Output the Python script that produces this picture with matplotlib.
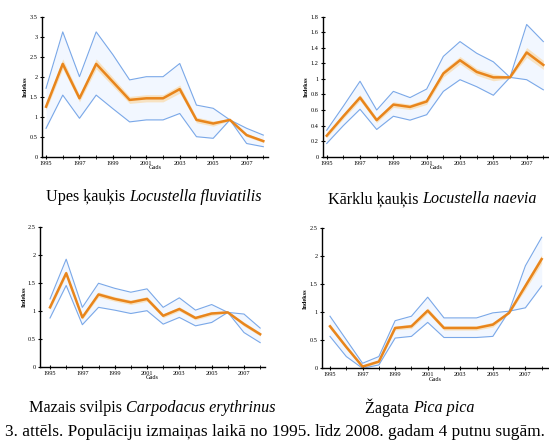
import numpy as np
import matplotlib
matplotlib.use("Agg")
import matplotlib.pyplot as plt

plt.rcParams['font.family'] = ['Liberation Serif', 'DejaVu Serif']

years = np.arange(1995, 2009)

# Upes kaukis
upes_mid = [1.25, 2.32, 1.46, 2.32, 1.87, 1.42, 1.46, 1.46, 1.69, 0.92, 0.83, 0.92, 0.54, 0.39]
upes_hi  = [1.71, 3.12, 2.00, 3.12, 2.55, 1.92, 2.00, 2.00, 2.33, 1.29, 1.21, 0.92, 0.71, 0.54]
upes_lo  = [0.71, 1.54, 0.96, 1.54, 1.20, 0.87, 0.92, 0.92, 1.08, 0.50, 0.46, 0.92, 0.33, 0.25]

# Karklu kaukis
karklu_mid = [0.27, 0.52, 0.76, 0.47, 0.67, 0.64, 0.71, 1.07, 1.24, 1.09, 1.02, 1.02, 1.34, 1.18]
karklu_hi  = [0.34, 0.65, 0.97, 0.60, 0.84, 0.76, 0.87, 1.29, 1.48, 1.33, 1.22, 1.02, 1.70, 1.48]
karklu_lo  = [0.17, 0.40, 0.61, 0.35, 0.52, 0.47, 0.54, 0.84, 0.99, 0.90, 0.79, 1.02, 0.99, 0.86]

# Mazais svilpis
svilpis_mid = [1.06, 1.67, 0.88, 1.29, 1.21, 1.15, 1.21, 0.91, 1.03, 0.87, 0.95, 0.97, 0.76, 0.58]
svilpis_hi  = [1.21, 1.92, 1.06, 1.49, 1.40, 1.33, 1.39, 1.06, 1.23, 1.01, 1.11, 0.97, 0.94, 0.69]
svilpis_lo  = [0.87, 1.45, 0.75, 1.06, 1.01, 0.95, 1.00, 0.76, 0.88, 0.73, 0.79, 0.97, 0.61, 0.43]

# Zagata
zagata_mid = [0.75, 0.38, 0.03, 0.12, 0.72, 0.75, 1.03, 0.72, 0.72, 0.72, 0.78, 0.99, 1.47, 1.95]
zagata_hi  = [0.93, 0.51, 0.09, 0.21, 0.85, 0.93, 1.27, 0.90, 0.90, 0.90, 0.99, 1.02, 1.83, 2.34]
zagata_lo  = [0.57, 0.21, 0.00, 0.06, 0.54, 0.57, 0.82, 0.55, 0.55, 0.55, 0.57, 1.02, 1.08, 1.47]

xticks = [1995, 1997, 1999, 2001, 2003, 2005, 2007]

W, H = 549, 443
fig = plt.figure(figsize=(W / 100, H / 100), dpi=100)

def px_axes(x0, x1, ytop, ybot):
    return fig.add_axes([x0 / W, 1 - ybot / H, (x1 - x0) / W, (ybot - ytop) / H])

panels = [
    # (axes box px), xlim, ylim, yticks, data, title parts, title pos
    ((41.7, 268, 16.7, 156.7), (1994.74, 2008.28), (0, 3.5), np.arange(0, 3.51, 0.5),
     (upes_mid, upes_hi, upes_lo), ("Upes ķauķis ", "Locustella fluviatilis"), (154, 197)),
    ((322.7, 549, 16.7, 156.7), (1994.76, 2008.34), (0, 1.8), np.arange(0, 1.81, 0.2),
     (karklu_mid, karklu_hi, karklu_lo), ("Kārklu ķauķis ", "Locustella naevia"), (432, 199)),
    ((40, 265, 226.7, 366.7), (1994.38, 2008.3), (0, 2.5), np.arange(0, 2.51, 0.5),
     (svilpis_mid, svilpis_hi, svilpis_lo), ("Mazais svilpis ", "Carpodacus erythrinus"), (152, 408)),
    ((321.7, 549, 228.3, 368.3), (1994.49, 2008.45), (0, 2.5), np.arange(0, 2.51, 0.5),
     (zagata_mid, zagata_hi, zagata_lo), ("Žagata ", "Pica pica"), (420, 408)),
]

orange = '#e8851c'
blue = '#7aa8e8'

for box, xlim, ylim, yticks, (mid, hi, lo), (tn, tl), (tx, ty) in panels:
    ax = px_axes(*box)
    mid = np.array(mid); hi = np.array(hi); lo = np.array(lo)
    ax.fill_between(years, lo, hi, color='#dceaff', alpha=0.35, lw=0)
    ax.fill_between(years, mid - 0.07 * (hi - lo + 0.2), mid + 0.07 * (hi - lo + 0.2),
                    color='#fbd59a', alpha=0.6, lw=0)
    ax.plot(years, hi, color=blue, lw=0.8)
    ax.plot(years, lo, color=blue, lw=0.8)
    ax.plot(years, mid, color=orange, lw=1.8)
    ax.set_xlim(*xlim)
    ax.set_ylim(*ylim)
    ax.set_yticks(yticks)
    ax.set_yticklabels(['%g' % v for v in yticks], fontsize=4.5)
    ax.set_xticks(xticks)
    ax.set_xticklabels([str(v) for v in xticks], fontsize=4.5)
    ax.set_xticks(years, minor=True)
    ax.tick_params(axis='both', length=3, width=0.8, pad=1.5, direction='inout')
    ax.tick_params(axis='x', which='minor', length=2.5, width=0.6, direction='inout')
    for s in ('top', 'right'):
        ax.spines[s].set_visible(False)
    for s in ('left', 'bottom'):
        ax.spines[s].set_linewidth(1.0)
    ax.set_xlabel('Gads', fontsize=4.5, labelpad=-0.5)
    ax.set_ylabel('Indekss', fontsize=4.5, fontweight='bold', labelpad=1)
    ax.patch.set_alpha(0)
    # title: normal + italic, centered as a pair
    t1 = fig.text(0, 0, tn, fontsize=11.6)
    t2 = fig.text(0, 0, tl, fontsize=11.6, style='italic')
    r = fig.canvas.get_renderer()
    w1 = t1.get_window_extent(r).width
    w2 = t2.get_window_extent(r).width
    x0 = tx - (w1 + w2) / 2
    t1.set_position((x0 / W, 1 - ty / H)); t1.set_va('center')
    t2.set_position(((x0 + w1) / W, 1 - ty / H)); t2.set_va('center')

fig.text(275 / W, 1 - 431.7 / H,
         "3. attēls. Populāciju izmaiņas laikā no 1995. līdz 2008. gadam 4 putnu sugām.",
         fontsize=12.4, ha='center', va='center')

fig.savefig('out.png', dpi=100)
